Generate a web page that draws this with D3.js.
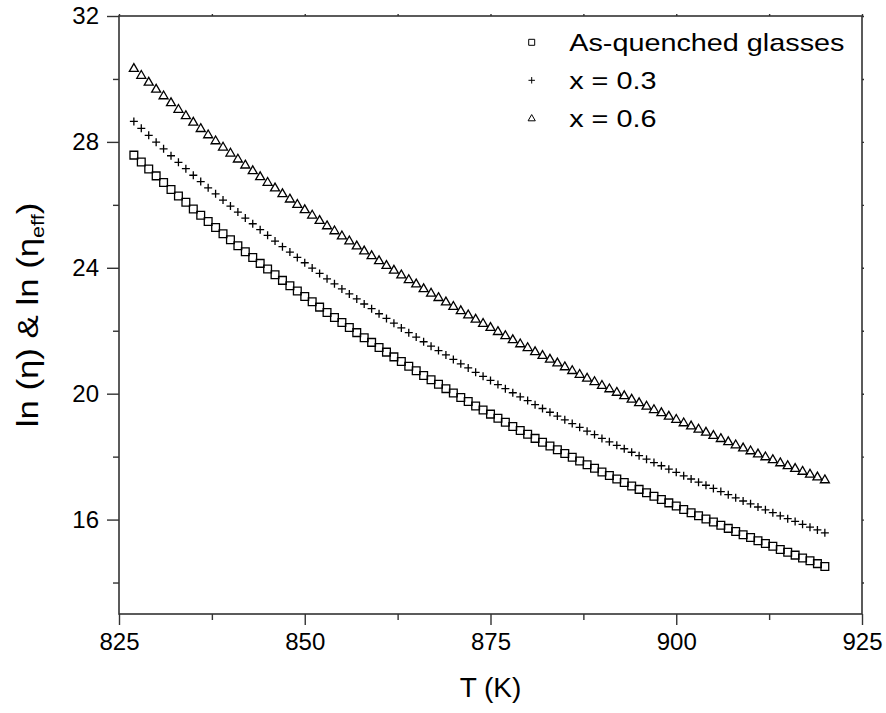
<!DOCTYPE html>
<html>
<head>
<meta charset="utf-8">
<script src="https://cdn.jsdelivr.net/npm/d3@7"></script>
<style>
  html, body { margin: 0; padding: 0; background: #fff; }
  svg { display: block; font-family: "Liberation Sans", Arial, Helvetica, sans-serif; }
</style>
</head>
<body>
<svg id="chart" width="886" height="713"></svg>
<script>
// Temperature (K) of each measured point
const temperatures = [
  827, 828, 829, 830, 831, 832, 833, 834, 835, 836,
  837, 838, 839, 840, 841, 842, 843, 844, 845, 846,
  847, 848, 849, 850, 851, 852, 853, 854, 855, 856,
  857, 858, 859, 860, 861, 862, 863, 864, 865, 866,
  867, 868, 869, 870, 871, 872, 873, 874, 875, 876,
  877, 878, 879, 880, 881, 882, 883, 884, 885, 886,
  887, 888, 889, 890, 891, 892, 893, 894, 895, 896,
  897, 898, 899, 900, 901, 902, 903, 904, 905, 906,
  907, 908, 909, 910, 911, 912, 913, 914, 915, 916,
  917, 918, 919, 920
];

// ln(eta) of the as-quenched glasses
const asQuenched = [
  27.58, 27.36, 27.14, 26.92, 26.71, 26.49, 26.28, 26.08, 25.87, 25.67,
  25.47, 25.28, 25.08, 24.89, 24.70, 24.51, 24.33, 24.14, 23.96, 23.78,
  23.60, 23.43, 23.26, 23.09, 22.92, 22.75, 22.58, 22.42, 22.26, 22.10,
  21.94, 21.78, 21.63, 21.47, 21.32, 21.17, 21.02, 20.87, 20.73, 20.58,
  20.44, 20.30, 20.16, 20.02, 19.88, 19.75, 19.61, 19.48, 19.35, 19.22,
  19.09, 18.96, 18.83, 18.71, 18.58, 18.46, 18.34, 18.22, 18.10, 17.98,
  17.86, 17.74, 17.63, 17.51, 17.40, 17.29, 17.18, 17.07, 16.96, 16.85,
  16.74, 16.64, 16.53, 16.43, 16.32, 16.22, 16.12, 16.02, 15.92, 15.82,
  15.72, 15.62, 15.52, 15.43, 15.33, 15.24, 15.15, 15.05, 14.96, 14.87,
  14.78, 14.69, 14.60, 14.51
];

// ln(eta_eff) for x = 0.3
const x03 = [
  28.65, 28.43, 28.21, 27.99, 27.78, 27.56, 27.35, 27.15, 26.94, 26.74,
  26.54, 26.35, 26.15, 25.96, 25.77, 25.58, 25.40, 25.21, 25.03, 24.85,
  24.67, 24.50, 24.33, 24.16, 23.99, 23.82, 23.65, 23.49, 23.33, 23.17,
  23.01, 22.85, 22.70, 22.54, 22.39, 22.24, 22.09, 21.94, 21.80, 21.65,
  21.51, 21.37, 21.23, 21.09, 20.95, 20.82, 20.68, 20.55, 20.42, 20.29,
  20.16, 20.03, 19.90, 19.78, 19.65, 19.53, 19.41, 19.29, 19.17, 19.05,
  18.93, 18.81, 18.70, 18.58, 18.47, 18.36, 18.25, 18.14, 18.03, 17.92,
  17.81, 17.71, 17.60, 17.50, 17.39, 17.29, 17.19, 17.09, 16.99, 16.89,
  16.79, 16.69, 16.59, 16.50, 16.40, 16.31, 16.22, 16.12, 16.03, 15.94,
  15.85, 15.76, 15.67, 15.58
];

// ln(eta_eff) for x = 0.6
const x06 = [
  30.34, 30.12, 29.90, 29.68, 29.47, 29.25, 29.04, 28.84, 28.63, 28.43,
  28.23, 28.04, 27.84, 27.65, 27.46, 27.27, 27.09, 26.90, 26.72, 26.54,
  26.36, 26.19, 26.02, 25.85, 25.68, 25.51, 25.34, 25.18, 25.02, 24.86,
  24.70, 24.54, 24.39, 24.23, 24.08, 23.93, 23.78, 23.63, 23.49, 23.34,
  23.20, 23.06, 22.92, 22.78, 22.64, 22.51, 22.37, 22.24, 22.11, 21.98,
  21.85, 21.72, 21.59, 21.47, 21.34, 21.22, 21.10, 20.98, 20.86, 20.74,
  20.62, 20.50, 20.39, 20.27, 20.16, 20.05, 19.94, 19.83, 19.72, 19.61,
  19.50, 19.40, 19.29, 19.19, 19.08, 18.98, 18.88, 18.78, 18.68, 18.58,
  18.48, 18.38, 18.28, 18.19, 18.09, 18.00, 17.91, 17.81, 17.72, 17.63,
  17.54, 17.45, 17.36, 17.27
];

const seriesNames = ["As-quenched glasses", "x = 0.3", "x = 0.6"];

const xMajorTicks = [825, 850, 875, 900, 925];
const xMinorTicks = [837.5, 862.5, 887.5, 912.5];
const yMajorTicks = [16, 20, 24, 28, 32];
const yMinorTicks = [14, 18, 22, 26, 30];

// ---- layout ----
const W = 886, H = 713;
const margin = { top: 16, right: 24, bottom: 99, left: 119 };
const iw = W - margin.left - margin.right;
const ih = H - margin.top - margin.bottom;

const svg = d3.select("#chart");
const g = svg.append("g").attr("transform", `translate(${margin.left},${margin.top})`);

const x = d3.scaleLinear().domain([825, 925]).range([0, iw]);
const y = d3.scaleLinear().domain([13, 32]).range([ih, 0]);

// ---- marker shapes ----
const squareType = {
  draw(ctx, size) {
    const h = Math.sqrt(size) / 2;
    ctx.moveTo(-h, -h); ctx.lineTo(h, -h); ctx.lineTo(h, h); ctx.lineTo(-h, h); ctx.closePath();
  }
};
const plusType = {
  draw(ctx, size) {
    const h = Math.sqrt(size) / 2;
    ctx.moveTo(-h, 0); ctx.lineTo(h, 0);
    ctx.moveTo(0, -h); ctx.lineTo(0, h);
  }
};
const triangleType = {
  draw(ctx, size) {
    const s = Math.sqrt(size);       // side length
    const th = s * Math.sqrt(3) / 2; // height
    ctx.moveTo(0, -th * 0.6); ctx.lineTo(s / 2, th * 0.4); ctx.lineTo(-s / 2, th * 0.4); ctx.closePath();
  }
};

const series = [
  { name: seriesNames[0], values: asQuenched, type: squareType,   size: 60, legendSize: 36 },
  { name: seriesNames[1], values: x03,        type: plusType,     size: 64, legendSize: 42 },
  { name: seriesNames[2], values: x06,        type: triangleType, size: 81, legendSize: 52 }
];

// ---- axes ----
const axisColor = "#333";
const tickFont = "24px";

function styleAxis(sel) {
  sel.select(".domain").remove();
  sel.selectAll("line").attr("stroke", axisColor).attr("stroke-width", 1.4);
  sel.selectAll("text").attr("fill", "#000").style("font-size", tickFont)
     .style("font-family", "'Liberation Sans', Arial, sans-serif");
}

// bottom
g.append("g").attr("transform", `translate(0,${ih})`)
  .call(d3.axisBottom(x).tickValues(xMajorTicks).tickSize(11).tickPadding(8).tickFormat(d3.format("d")))
  .call(styleAxis);
g.append("g").attr("transform", `translate(0,${ih})`)
  .call(d3.axisBottom(x).tickValues(xMinorTicks).tickSize(6).tickFormat(""))
  .call(styleAxis);

// left
g.append("g")
  .call(d3.axisLeft(y).tickValues(yMajorTicks).tickSize(12).tickPadding(8).tickFormat(d3.format("d")))
  .call(styleAxis);
g.append("g")
  .call(d3.axisLeft(y).tickValues(yMinorTicks).tickSize(6).tickFormat(""))
  .call(styleAxis);

// top and right: small tick marks only
g.append("g")
  .call(d3.axisTop(x).tickValues(xMajorTicks.concat(xMinorTicks)).tickSize(2).tickFormat(""))
  .call(styleAxis);
g.append("g").attr("transform", `translate(${iw},0)`)
  .call(d3.axisRight(y).tickValues(yMajorTicks.concat(yMinorTicks)).tickSize(2).tickFormat(""))
  .call(styleAxis);

// frame
g.append("rect")
  .attr("x", 0).attr("y", 0).attr("width", iw).attr("height", ih)
  .attr("fill", "none").attr("stroke", axisColor).attr("stroke-width", 1.6);

// ---- data markers ----
series.forEach(s => {
  const sym = d3.symbol().type(s.type).size(s.size);
  g.append("g")
    .selectAll("path")
    .data(temperatures.map((t, i) => [t, s.values[i]]))
    .join("path")
    .attr("transform", d => `translate(${x(d[0])},${y(d[1])})`)
    .attr("d", sym)
    .attr("fill", "none")
    .attr("stroke", "#000")
    .attr("stroke-width", 1.3);
});

// ---- axis titles ----
svg.append("text")
  .attr("x", margin.left + iw / 2)
  .attr("y", 697)
  .attr("text-anchor", "middle")
  .style("font-size", "28px")
  .text("T (K)");

const yTitle = svg.append("text")
  .attr("transform", `translate(38,${margin.top + ih / 2}) rotate(-90) scale(1.2,1)`)
  .attr("text-anchor", "middle")
  .style("font-size", "29px");
yTitle.append("tspan").text("ln (η) & ln (η");
yTitle.append("tspan").attr("dy", 6).style("font-size", "18px").text("eff");
yTitle.append("tspan").attr("dy", -6).text(")");

// ---- legend ----
const legend = svg.append("g").attr("transform", "translate(531.7,42.3)");
series.forEach((s, i) => {
  const row = legend.append("g").attr("transform", `translate(0,${i * 38})`);
  row.append("path")
    .attr("d", d3.symbol().type(s.type).size(s.legendSize))
    .attr("fill", "none").attr("stroke", "#000").attr("stroke-width", 1);
  row.append("text")
    .attr("transform", "translate(37.5,8.5) scale(1.2,1)")
    .style("font-size", "24px")
    .text(s.name);
});
</script>
</body>
</html>
